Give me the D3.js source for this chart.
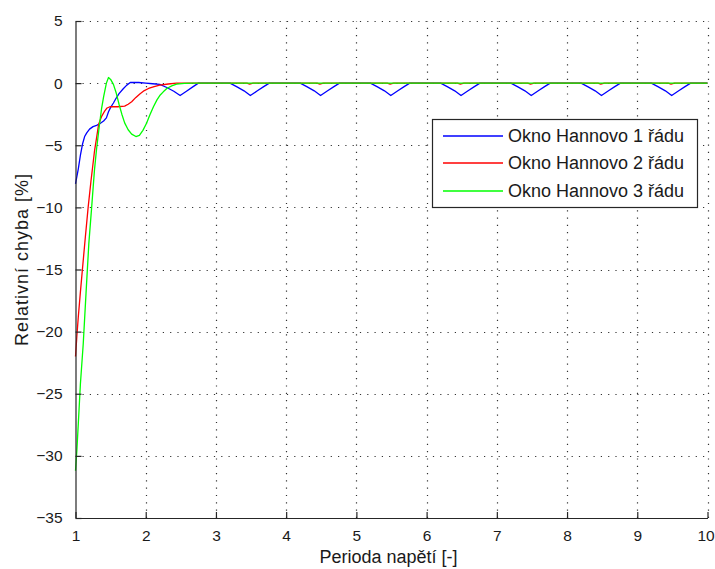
<!DOCTYPE html>
<html>
<head>
<meta charset="utf-8">
<script src="https://cdn.jsdelivr.net/npm/d3@7"></script>
<style>
  html, body { margin: 0; padding: 0; background: #fff; }
  svg { display: block; }
  text { font-family: "Liberation Sans", Arial, sans-serif; fill: #1a1a1a; }
</style>
</head>
<body>
<svg id="chart" width="715" height="569"></svg>
<script>
// ---------------- data ----------------
const xTicks = [1, 2, 3, 4, 5, 6, 7, 8, 9, 10];
const yTicks = [-35, -30, -25, -20, -15, -10, -5, 0, 5];
const xLabel = "Perioda napětí [-]";
const yLabel = "Relativní chyba [%]";
const seriesNames = ["Okno Hannovo 1 řádu", "Okno Hannovo 2 řádu", "Okno Hannovo 3 řádu"];
const seriesColors = ["#0000ff", "#ff0000", "#00ff00"];

const hann1 = [
  [1.00,-8.1],[1.02,-7.5],[1.04,-6.9],[1.07,-5.8],[1.10,-4.9],[1.13,-4.3],[1.16,-4.0],[1.20,-3.7],
  [1.25,-3.5],[1.30,-3.4],[1.35,-3.25],[1.40,-3.05],[1.44,-2.8],[1.47,-2.3],[1.50,-1.95],[1.54,-1.6],
  [1.58,-1.2],[1.62,-0.85],[1.68,-0.45],[1.73,-0.16],[1.78,0.05],[1.90,0.05],[2.00,0.0],[2.10,-0.05],
  [2.20,-0.1],[2.30,-0.35],[2.40,-0.65],[2.49,-1.0],[2.58,-0.65],[2.67,-0.3],[2.75,0.0],
  [3.20,0.0],[3.30,-0.3],[3.40,-0.62],[3.49,-1.0],[3.59,-0.62],[3.68,-0.28],[3.76,0.0],
  [4.20,0.0],[4.30,-0.3],[4.40,-0.62],[4.49,-1.0],[4.59,-0.62],[4.68,-0.28],[4.76,0.0],
  [5.20,0.0],[5.30,-0.3],[5.40,-0.62],[5.49,-1.0],[5.59,-0.62],[5.68,-0.28],[5.76,0.0],
  [6.20,0.0],[6.30,-0.3],[6.40,-0.62],[6.49,-1.0],[6.59,-0.62],[6.68,-0.28],[6.76,0.0],
  [7.20,0.0],[7.30,-0.3],[7.40,-0.62],[7.49,-1.0],[7.59,-0.62],[7.68,-0.28],[7.76,0.0],
  [8.20,0.0],[8.30,-0.3],[8.40,-0.62],[8.49,-1.0],[8.59,-0.62],[8.68,-0.28],[8.76,0.0],
  [9.20,0.0],[9.30,-0.3],[9.40,-0.62],[9.49,-1.0],[9.59,-0.62],[9.68,-0.28],[9.76,0.0],
  [10.0,0.0]
];

const hann2 = [
  [1.00,-22.0],[1.02,-20.3],[1.04,-18.8],[1.07,-16.8],[1.10,-14.9],[1.14,-12.4],[1.18,-10.0],
  [1.22,-7.9],[1.27,-5.5],[1.30,-4.4],[1.33,-3.3],[1.37,-2.7],[1.41,-2.3],[1.45,-2.0],[1.49,-1.9],
  [1.60,-1.9],[1.70,-1.85],[1.75,-1.7],[1.80,-1.5],[1.86,-1.15],[1.92,-0.85],[1.98,-0.6],
  [2.04,-0.43],[2.12,-0.28],[2.20,-0.16],[2.32,-0.07],[2.44,0.0],
  [3.44,0.0],[3.48,-0.08],[3.53,0.0],[4.44,0.0],[4.48,-0.08],[4.53,0.0],
  [5.44,0.0],[5.48,-0.08],[5.53,0.0],[6.44,0.0],[6.48,-0.08],[6.53,0.0],
  [7.44,0.0],[7.48,-0.08],[7.53,0.0],[8.44,0.0],[8.48,-0.08],[8.53,0.0],
  [9.44,0.0],[9.48,-0.08],[9.53,0.0],[10.0,0.0]
];

const hann3 = [
  [1.00,-31.2],[1.02,-29.5],[1.04,-27.4],[1.07,-24.2],[1.11,-21.0],[1.15,-16.9],[1.19,-12.9],
  [1.23,-10.0],[1.27,-7.0],[1.30,-5.3],[1.34,-3.4],[1.37,-2.1],[1.40,-1.1],[1.44,0.0],[1.47,0.45],
  [1.50,0.3],[1.54,-0.1],[1.58,-0.8],[1.62,-1.7],[1.66,-2.5],[1.70,-3.2],[1.75,-3.75],[1.80,-4.1],
  [1.86,-4.3],[1.91,-4.2],[1.96,-3.8],[2.01,-3.25],[2.06,-2.55],[2.11,-1.9],[2.16,-1.35],
  [2.20,-1.0],[2.25,-0.7],[2.30,-0.43],[2.37,-0.22],[2.44,-0.08],[2.55,-0.02],[2.68,0.0],[10.0,0.0]
];

const allSeries = [hann1, hann2, hann3];

// ---------------- chart ----------------
const svg = d3.select("#chart");
const L = 75.5, R = 707.5, T = 21, B = 518;
const x = d3.scaleLinear().domain([1, 10]).range([L, R]);
const y = d3.scaleLinear().domain([-35, 5]).range([B, T]);

// grid (dotted)
const grid = svg.append("g").attr("stroke", "#000").attr("stroke-width", 1.2)
  .attr("stroke-dasharray", "1.2,6.1").attr("fill", "none");
xTicks.filter(v => v > 1).forEach(v => {
  grid.append("line").attr("x1", Math.round(x(v)) + 0.5).attr("x2", Math.round(x(v)) + 0.5)
    .attr("y1", B).attr("y2", T).attr("stroke-opacity", 0.8);
});
yTicks.filter(v => v > -35).forEach(v => {
  grid.append("line").attr("y1", Math.round(y(v)) + 0.5).attr("y2", Math.round(y(v)) + 0.5)
    .attr("x1", L + 7).attr("x2", R).attr("stroke-opacity", 0.8);
});

// series
const line = d3.line().x(d => x(d[0])).y(d => y(d[1]));
allSeries.forEach((s, i) => {
  svg.append("path").datum(s).attr("d", line).attr("fill", "none")
    .attr("stroke", seriesColors[i]).attr("stroke-width", 1.3).attr("stroke-linejoin", "round");
});

// axes (MATLAB style: inward ticks)
const xAxis = d3.axisBottom(x).tickValues(xTicks).tickFormat(d3.format("d"))
  .tickSizeInner(-6).tickSizeOuter(0).tickPadding(14);
const gx = svg.append("g").attr("transform", `translate(0,${B})`).call(xAxis);
const yAxis = d3.axisLeft(y).tickValues(yTicks).tickFormat(d3.format("d"))
  .tickSizeInner(-6).tickSizeOuter(0).tickPadding(13);
const gy = svg.append("g").attr("transform", `translate(${L},0)`).call(yAxis);
[gx, gy].forEach(g => {
  g.select(".domain").attr("stroke", "#262626").attr("stroke-width", 1.2);
  g.selectAll(".tick line").attr("stroke", "#262626").attr("stroke-width", 1.2);
  g.selectAll(".tick text").attr("font-size", 15.5).attr("fill", "#1a1a1a")
    .style("font-family", '"Liberation Sans", Arial, sans-serif');
});
gx.selectAll(".tick text").attr("dy", "0.71em").attr("y", 12);
gx.selectAll(".tick text").filter(d => d === 10).attr("dx", -2);

// axis titles
svg.append("text").attr("x", (L + R) / 2 - 3).attr("y", 563).attr("text-anchor", "middle")
  .attr("font-size", 18).text(xLabel);
svg.append("text").attr("transform", "translate(28,260) rotate(-90)").attr("text-anchor", "middle")
  .attr("font-size", 18).attr("textLength", 172).attr("lengthAdjust", "spacing").text(yLabel);

// legend
const lg = svg.append("g");
lg.append("rect").attr("x", 432.5).attr("y", 119.5).attr("width", 265).attr("height", 88)
  .attr("fill", "#fff").attr("stroke", "#262626").attr("stroke-width", 1.2);
const rowsY = [136, 163, 191];
seriesNames.forEach((name, i) => {
  lg.append("line").attr("x1", 443).attr("x2", 503).attr("y1", rowsY[i]).attr("y2", rowsY[i])
    .attr("stroke", seriesColors[i]).attr("stroke-width", 1.3);
  lg.append("text").attr("x", 508).attr("y", rowsY[i]).attr("dy", "0.35em")
    .attr("font-size", 18).text(name);
});
</script>
</body>
</html>
